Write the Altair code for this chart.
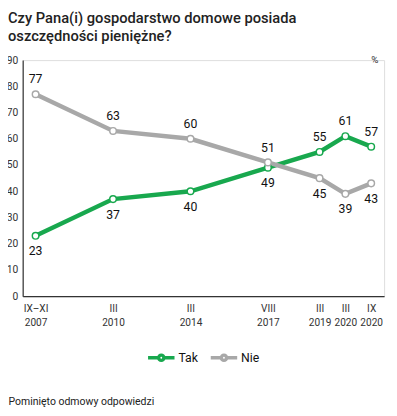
import altair as alt
import pandas as pd

periods = ["IX–XI|2007", "III|2010", "III|2014", "VIII|2017", "III|2019", "III|2020", "IX|2020"]
x_pos = [0, 3, 6, 9, 11, 12, 13]
tak = [23, 37, 40, 49, 55, 61, 57]
nie = [77, 63, 60, 51, 45, 39, 43]
series = ["Tak", "Nie"]
colors = ["#18a84e", "#a8a8a8"]
y_ticks = [0, 10, 20, 30, 40, 50, 60, 70, 80, 90]

rows = []
for i, p in enumerate(periods):
    rows.append(dict(x=x_pos[i], period=p, series="Tak", value=tak[i], above=tak[i] > nie[i]))
    rows.append(dict(x=x_pos[i], period=p, series="Nie", value=nie[i], above=nie[i] > tak[i]))
df = pd.DataFrame(rows)

lab_arr = "[" + ",".join(f"'{p}'" for p in periods) + "]"
pos_arr = "[" + ",".join(str(v) for v in x_pos) + "]"
label_expr = f"split({lab_arr}[indexof({pos_arr}, datum.value)], '|')"

FONT = "Roboto"

x = alt.X(
    "x:Q",
    scale=alt.Scale(domain=[-0.5, 13.5], nice=False, zero=False),
    axis=alt.Axis(
        values=x_pos, labelExpr=label_expr, ticks=False, grid=False,
        domainColor="#333", domainWidth=1.2, labelColor="#333", labelFontSize=10.3,
        labelFont=FONT, labelPadding=8, labelLineHeight=14, labelBaseline="top",
        title="Pominięto odmowy odpowiedzi", titleX=-15, titleY=108, titleAlign="left",
        titleBaseline="middle", titleFontWeight="normal", titleFontSize=10.7,
        titleFont=FONT, titleColor="#222", labelFlush=False, labelOverlap=False,
    ),
)
y = alt.Y(
    "value:Q",
    scale=alt.Scale(domain=[0, 90], nice=False),
    axis=alt.Axis(
        values=y_ticks, ticks=False, grid=False, domainColor="#333", domainWidth=1.2,
        labelColor="#333", labelFontSize=10.5, labelFont=FONT, labelPadding=5,
        title="%", titleAngle=0, titleX=359, titleY=-1, titleAlign="center",
        titleBaseline="middle", titleFontWeight="normal", titleFontSize=10,
        titleFont=FONT, titleColor="#333",
    ),
)
color_scale = alt.Scale(domain=series, range=colors)

legend_path = "M-1,0 L-0.22,0 M0.2,0 A0.2,0.2 0 1,1 -0.2,0 A0.2,0.2 0 1,1 0.2,0 M0.22,0 L1,0"

line = alt.Chart(df).mark_line(strokeWidth=4.5).encode(
    x=x, y=y,
    color=alt.Color(
        "series:N", scale=color_scale,
        legend=alt.Legend(
            orient="none", legendX=126, legendY=288, direction="horizontal", title=None,
            symbolType=legend_path, symbolSize=729, symbolStrokeWidth=3.5,
            symbolFillColor="white", labelFont=FONT, labelFontSize=12.5,
            labelColor="#111", labelOffset=2, columnPadding=6,
        ),
    ),
    detail="series:N",
)

points = alt.Chart(df).mark_point(filled=True, fill="white", size=45, strokeWidth=1.5, opacity=1).encode(
    x=x, y=y,
    stroke=alt.Stroke("series:N", scale=color_scale, legend=None),
)

lab_above = alt.Chart(df).transform_filter("datum.above").mark_text(
    dy=-15, fontSize=12.5, font=FONT, color="#111", baseline="middle"
).encode(x=x, y=y, text="value:Q")

lab_below = alt.Chart(df).transform_filter("!datum.above").mark_text(
    dy=16, fontSize=12.5, font=FONT, color="#111", baseline="middle"
).encode(x=x, y=y, text="value:Q")

chart = alt.layer(line, points, lab_above, lab_below).properties(
    width=369, height=241,
    autosize=alt.AutoSizeParams(type="none"),
    padding={"left": 15, "top": 49, "right": 5, "bottom": 110},
    title=alt.TitleParams(
        text=["Czy Pana(i) gospodarstwo domowe posiada", "oszczędności pieniężne?"],
        anchor="start", frame="group", dx=-15, offset=11, fontSize=15, font=FONT,
        fontWeight=500, color="#222", lineHeight=18,
    ),
).configure_view(stroke=None).configure(background="white")

chart.save("out.html", embed_options={"renderer": "svg", "actions": False})
